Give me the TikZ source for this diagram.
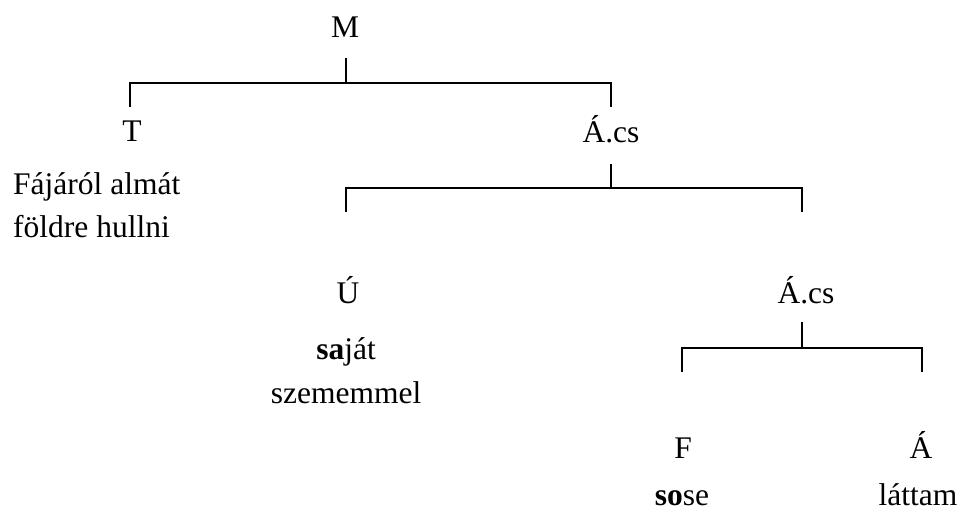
\documentclass[tikz,border=0pt]{standalone}
\usepackage{fontspec}
\setmainfont{Liberation Serif}

\def\treeFont{\fontsize{31.5}{38}\selectfont}

\begin{document}
\begin{tikzpicture}[x=1pt,y=-1pt,
    lbl/.style={anchor=base,inner sep=0pt,font=\treeFont},
    bar/.style={line width=1.5pt}]

    \useasboundingbox (0,0) rectangle (963,514);

    % level 1
    \node[lbl] (m) at (345,37) {M};
    \node[lbl] (t) at (132,141) {T};
    \node[lbl] (acsOne) at (611,142) {Á.cs};
    \node[lbl,anchor=base west] (tOne) at (13,194) {Fájáról almát};
    \node[lbl,anchor=base west] (tTwo) at (13,237) {földre hullni};

    \coordinate (mStem) at (346,58);
    \coordinate (mFork) at (346,83);
    \coordinate (tEnd) at (130,107);
    \coordinate (acsOneEnd) at (611,107);
    \draw[bar] (mStem) -- (mFork);
    \draw[bar] (tEnd) |- (mFork) -| (acsOneEnd);

    % level 2
    \node[lbl] (u) at (348,303) {Ú};
    \node[lbl] (uOne) at (346,359) {\textbf{sa}ját};
    \node[lbl] (uTwo) at (346,403) {szememmel};
    \node[lbl] (acsTwo) at (806,303) {Á.cs};

    \coordinate (acsOneStem) at (611,164);
    \coordinate (acsOneFork) at (611,188);
    \coordinate (uEnd) at (346,212);
    \coordinate (acsTwoEnd) at (802,212);
    \draw[bar] (acsOneStem) -- (acsOneFork);
    \draw[bar] (uEnd) |- (acsOneFork) -| (acsTwoEnd);

    % level 3
    \node[lbl] (f) at (683,458) {F};
    \node[lbl] (fOne) at (682,505) {\textbf{so}se};
    \node[lbl] (a) at (921,458) {Á};
    \node[lbl] (aOne) at (918,505) {láttam};

    \coordinate (acsTwoStem) at (802,322);
    \coordinate (acsTwoFork) at (802,348);
    \coordinate (fEnd) at (682,372);
    \coordinate (aEnd) at (922,372);
    \draw[bar] (acsTwoStem) -- (acsTwoFork);
    \draw[bar] (fEnd) |- (acsTwoFork) -| (aEnd);

\end{tikzpicture}
\end{document}
